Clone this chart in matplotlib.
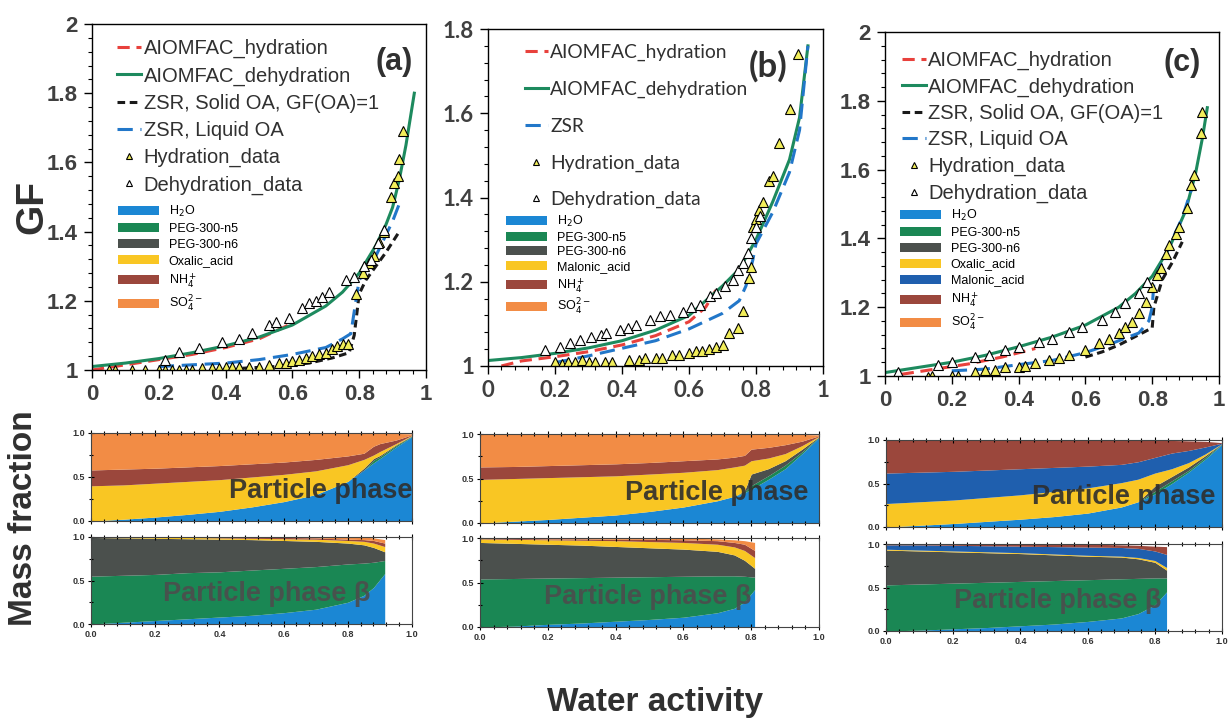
import numpy as np
import matplotlib.pyplot as plt
from matplotlib.lines import Line2D
from matplotlib.patches import Patch
from matplotlib.ticker import MultipleLocator

plt.rcParams['font.family'] = ['Liberation Sans', 'DejaVu Sans']

# ---------------------------------------------
# GF DATA  (water activity, growth factor)
# ---------------------------------------------

# panel (a)
a_dehyd_aw = [0, 0.1, 0.2, 0.3, 0.4, 0.5, 0.6, 0.7, 0.75, 0.8, 0.85, 0.88, 0.9, 0.92, 0.94, 0.965]
a_dehyd_gf = [1.01, 1.02, 1.033, 1.05, 1.07, 1.095, 1.13, 1.185, 1.225, 1.28, 1.36, 1.42, 1.47, 1.55, 1.65, 1.8]
a_hyd_aw = [0.0, 0.1, 0.2, 0.3, 0.4, 0.5, 0.6]
a_hyd_gf = [1.0, 1.015, 1.03, 1.045, 1.065, 1.09, 1.135]
a_zsr_liq_aw = [0.2, 0.3, 0.4, 0.5, 0.6, 0.7, 0.75, 0.775, 0.79, 0.8, 0.85, 0.9, 0.92]
a_zsr_liq_gf = [1.01, 1.015, 1.02, 1.03, 1.045, 1.065, 1.09, 1.105, 1.2, 1.26, 1.33, 1.43, 1.48]
a_zsr_sol_aw = [0.45, 0.55, 0.65, 0.72, 0.77, 0.785, 0.8, 0.82, 0.85, 0.88, 0.92]
a_zsr_sol_gf = [1.005, 1.01, 1.02, 1.035, 1.05, 1.1, 1.22, 1.26, 1.3, 1.34, 1.4]
a_hdata_aw = [0.05, 0.07, 0.12, 0.16, 0.2, 0.22, 0.24, 0.26, 0.28, 0.3, 0.33, 0.36, 0.38, 0.4,
              0.42, 0.44, 0.47, 0.5, 0.53, 0.56, 0.58, 0.6, 0.62, 0.64, 0.66, 0.68, 0.7, 0.72,
              0.735, 0.75, 0.765, 0.79, 0.81, 0.83, 0.845, 0.86, 0.875, 0.895, 0.905, 0.915, 0.92, 0.93]
a_hdata_gf = [1.0, 1.0, 1.0, 1.0, 1.0, 1.0, 1.0, 1.0, 1.0, 1.0, 1.005, 1.005, 1.005, 1.01,
              1.01, 1.01, 1.01, 1.01, 1.015, 1.02, 1.02, 1.025, 1.03, 1.035, 1.04, 1.045, 1.05, 1.06,
              1.07, 1.075, 1.075, 1.22, 1.28, 1.31, 1.33, 1.37, 1.4, 1.5, 1.54, 1.56, 1.61, 1.69]
a_ddata_aw = [0.22, 0.26, 0.32, 0.39, 0.44, 0.48, 0.53, 0.55, 0.59, 0.63, 0.65, 0.67, 0.69, 0.71,
              0.76, 0.785, 0.815, 0.835, 0.855, 0.875]
a_ddata_gf = [1.03, 1.053, 1.063, 1.082, 1.09, 1.106, 1.13, 1.14, 1.15, 1.178, 1.193, 1.2, 1.21, 1.226,
              1.26, 1.27, 1.3, 1.318, 1.366, 1.405]

# panel (b)
b_dehyd_aw = [0, 0.1, 0.2, 0.3, 0.4, 0.5, 0.6, 0.7, 0.75, 0.8, 0.85, 0.9, 0.93, 0.955]
b_dehyd_gf = [1.013, 1.02, 1.03, 1.043, 1.06, 1.085, 1.12, 1.19, 1.23, 1.3, 1.39, 1.49, 1.59, 1.76]
b_hyd_aw = [0.04, 0.1, 0.2, 0.3, 0.4, 0.5, 0.6, 0.65, 0.68]
b_hyd_gf = [1.0, 1.012, 1.022, 1.034, 1.05, 1.072, 1.105, 1.14, 1.18]
b_zsr_aw = [0.2, 0.3, 0.4, 0.5, 0.6, 0.7, 0.75, 0.77, 0.79, 0.8, 0.85, 0.9, 0.93, 0.955]
b_zsr_gf = [1.008, 1.024, 1.042, 1.06, 1.088, 1.125, 1.155, 1.19, 1.25, 1.29, 1.365, 1.46, 1.56, 1.76]
b_hdata_aw = [0.2, 0.22, 0.24, 0.26, 0.28, 0.3, 0.32, 0.35, 0.37, 0.42, 0.45, 0.47, 0.5, 0.52,
              0.55, 0.57, 0.6, 0.62, 0.64, 0.66, 0.68, 0.7, 0.72, 0.745, 0.76, 0.78, 0.785, 0.79,
              0.8, 0.81, 0.82, 0.84, 0.85, 0.87, 0.9, 0.925]
b_hdata_gf = [1.01, 1.005, 1.01, 1.01, 1.015, 1.01, 1.01, 1.01, 1.01, 1.015, 1.015, 1.02, 1.02, 1.02,
              1.025, 1.025, 1.03, 1.035, 1.035, 1.04, 1.045, 1.05, 1.078, 1.09, 1.13, 1.21, 1.236, 1.33,
              1.35, 1.37, 1.39, 1.44, 1.45, 1.53, 1.61, 1.74]
b_ddata_aw = [0.169, 0.214, 0.244, 0.274, 0.308, 0.338, 0.353, 0.393, 0.418, 0.443, 0.483, 0.512,
              0.542, 0.582, 0.607, 0.632, 0.662, 0.682, 0.706, 0.731, 0.746, 0.761, 0.776, 0.786,
              0.801, 0.811]
b_ddata_gf = [1.038, 1.046, 1.054, 1.062, 1.07, 1.074, 1.078, 1.086, 1.09, 1.098, 1.11, 1.118,
              1.121, 1.129, 1.141, 1.145, 1.165, 1.173, 1.189, 1.205, 1.229, 1.245, 1.268, 1.304,
              1.331, 1.355]

# panel (c)
c_dehyd_aw = [0, 0.1, 0.2, 0.3, 0.4, 0.5, 0.6, 0.7, 0.75, 0.8, 0.85, 0.9, 0.93, 0.95, 0.965]
c_dehyd_gf = [1.01, 1.025, 1.04, 1.06, 1.085, 1.113, 1.148, 1.2, 1.24, 1.29, 1.37, 1.48, 1.59, 1.69, 1.78]
c_hyd_aw = [0.05, 0.15, 0.25, 0.35, 0.45]
c_hyd_gf = [1.005, 1.02, 1.035, 1.055, 1.08]
c_zsr_liq_aw = [0.2, 0.3, 0.4, 0.5, 0.6, 0.68, 0.76, 0.79, 0.8, 0.805, 0.84, 0.89, 0.92]
c_zsr_liq_gf = [1.015, 1.02, 1.033, 1.045, 1.068, 1.095, 1.125, 1.16, 1.2, 1.27, 1.355, 1.46, 1.55]
c_zsr_sol_aw = [0.6, 0.65, 0.7, 0.75, 0.78, 0.8, 0.805, 0.83, 0.86, 0.89]
c_zsr_sol_gf = [1.055, 1.07, 1.09, 1.115, 1.13, 1.14, 1.2, 1.28, 1.33, 1.39]
c_hdata_aw = [0.13, 0.14, 0.2, 0.22, 0.27, 0.3, 0.33, 0.36, 0.4, 0.42, 0.45, 0.49, 0.52, 0.55,
              0.6, 0.64, 0.67, 0.7, 0.72, 0.74, 0.76, 0.78, 0.8, 0.815, 0.825, 0.84, 0.85, 0.87,
              0.88, 0.905, 0.915, 0.925, 0.945, 0.95]
c_hdata_gf = [0.998, 1.0, 1.0, 1.0, 1.013, 1.017, 1.017, 1.027, 1.027, 1.03, 1.037, 1.046, 1.051, 1.061,
              1.076, 1.095, 1.109, 1.124, 1.143, 1.158, 1.182, 1.216, 1.26, 1.293, 1.313, 1.356, 1.38, 1.414,
              1.434, 1.487, 1.555, 1.584, 1.705, 1.768]
c_ddata_aw = [0.04, 0.16, 0.2, 0.27, 0.31, 0.36, 0.4, 0.46, 0.5, 0.55, 0.59, 0.65, 0.69, 0.72, 0.76, 0.785]
c_ddata_gf = [1.013, 1.032, 1.042, 1.056, 1.061, 1.076, 1.085, 1.1, 1.109, 1.129, 1.143, 1.163, 1.187,
              1.211, 1.24, 1.274]

# ---------------------------------------------
# MASS FRACTION DATA (cumulative top of each layer)
# ---------------------------------------------

# (a) particle phase: H2O, PEG-n5, PEG-n6, oxalic, NH4, SO4
a_mf_aw = [0, 0.1, 0.2, 0.3, 0.4, 0.5, 0.6, 0.7, 0.8, 0.85, 0.88, 0.9, 0.95, 1.0]
a_mf_h2o = [0, 0.02, 0.045, 0.075, 0.11, 0.16, 0.22, 0.3, 0.45, 0.58, 0.66, 0.71, 0.84, 0.96]
a_mf_n5 = [0, 0.02, 0.045, 0.075, 0.11, 0.16, 0.22, 0.3, 0.45, 0.58, 0.69, 0.73, 0.855, 0.965]
a_mf_n6 = [0, 0.02, 0.045, 0.075, 0.11, 0.16, 0.22, 0.3, 0.45, 0.6, 0.71, 0.745, 0.865, 0.97]
a_mf_oxa = [0.40, 0.41, 0.43, 0.45, 0.47, 0.50, 0.53, 0.57, 0.64, 0.70, 0.75, 0.79, 0.88, 0.975]
a_mf_nh4 = [0.58, 0.59, 0.60, 0.615, 0.63, 0.65, 0.67, 0.70, 0.74, 0.77, 0.85, 0.88, 0.92, 0.98]
a_mf_so4 = [1.0, 1.0, 1.0, 1.0, 1.0, 1.0, 1.0, 1.0, 1.0, 1.0, 1.0, 1.0, 0.995, 0.99]

# (a) particle phase beta
a_mfb_aw = [0, 0.1, 0.2, 0.3, 0.4, 0.5, 0.6, 0.7, 0.8, 0.85, 0.88, 0.915]
a_mfb_h2o = [0, 0.02, 0.04, 0.06, 0.08, 0.1, 0.13, 0.17, 0.25, 0.33, 0.42, 0.58]
a_mfb_n5 = [0.55, 0.56, 0.57, 0.59, 0.6, 0.62, 0.64, 0.66, 0.69, 0.7, 0.71, 0.73]
a_mfb_n6 = [0.995, 0.99, 0.985, 0.98, 0.975, 0.97, 0.96, 0.95, 0.93, 0.91, 0.88, 0.83]
a_mfb_oxa = [1.0, 1.0, 0.998, 0.995, 0.99, 0.985, 0.98, 0.975, 0.96, 0.95, 0.93, 0.89]
a_mfb_nh4 = [1.0, 1.0, 1.0, 1.0, 1.0, 1.0, 0.995, 0.99, 0.975, 0.97, 0.96, 0.93]
a_mfb_so4 = [1.0, 1.0, 1.0, 1.0, 1.0, 1.0, 1.0, 1.0, 1.0, 1.0, 0.99, 0.97]

# (b) particle phase: H2O, PEG-n5, PEG-n6, malonic, NH4, SO4
b_mf_aw = [0, 0.1, 0.2, 0.3, 0.4, 0.5, 0.6, 0.7, 0.75, 0.78, 0.8, 0.85, 0.9, 0.95, 1.0]
b_mf_h2o = [0, 0.02, 0.04, 0.065, 0.09, 0.13, 0.18, 0.25, 0.3, 0.34, 0.38, 0.49, 0.61, 0.78, 0.96]
b_mf_n5 = [0, 0.02, 0.04, 0.065, 0.09, 0.13, 0.18, 0.25, 0.3, 0.35, 0.42, 0.53, 0.65, 0.8, 0.965]
b_mf_n6 = [0, 0.02, 0.04, 0.065, 0.09, 0.13, 0.18, 0.25, 0.3, 0.36, 0.55, 0.61, 0.7, 0.83, 0.97]
b_mf_mal = [0.49, 0.5, 0.51, 0.52, 0.53, 0.55, 0.57, 0.6, 0.63, 0.65, 0.7, 0.73, 0.78, 0.87, 0.975]
b_mf_nh4 = [0.63, 0.635, 0.645, 0.655, 0.665, 0.68, 0.7, 0.72, 0.74, 0.76, 0.83, 0.85, 0.88, 0.92, 0.98]
b_mf_so4 = [1.0, 1.0, 1.0, 1.0, 1.0, 1.0, 1.0, 1.0, 1.0, 1.0, 1.0, 1.0, 1.0, 0.995, 0.99]

# (b) particle phase beta
b_mfb_aw = [0, 0.1, 0.2, 0.3, 0.4, 0.5, 0.6, 0.7, 0.75, 0.78, 0.81]
b_mfb_h2o = [0, 0.01, 0.03, 0.045, 0.065, 0.085, 0.11, 0.16, 0.21, 0.28, 0.42]
b_mfb_n5 = [0.54, 0.545, 0.55, 0.555, 0.56, 0.565, 0.57, 0.575, 0.575, 0.57, 0.56]
b_mfb_n6 = [0.95, 0.94, 0.93, 0.92, 0.905, 0.89, 0.875, 0.85, 0.81, 0.75, 0.66]
b_mfb_mal = [0.99, 0.985, 0.98, 0.975, 0.97, 0.96, 0.95, 0.93, 0.9, 0.86, 0.78]
b_mfb_nh4 = [0.995, 0.995, 0.99, 0.99, 0.985, 0.985, 0.98, 0.97, 0.95, 0.93, 0.86]
b_mfb_so4 = [1.0, 1.0, 1.0, 1.0, 1.0, 1.0, 1.0, 0.99, 0.98, 0.97, 0.95]

# (c) particle phase: H2O, PEG-n5, PEG-n6, oxalic, malonic, NH4
c_mf_aw = [0, 0.1, 0.2, 0.3, 0.4, 0.5, 0.6, 0.7, 0.75, 0.8, 0.85, 0.9, 0.95, 1.0]
c_mf_h2o = [0, 0.02, 0.04, 0.065, 0.09, 0.12, 0.16, 0.23, 0.29, 0.38, 0.5, 0.63, 0.78, 0.95]
c_mf_n5 = [0, 0.02, 0.04, 0.065, 0.09, 0.12, 0.16, 0.23, 0.29, 0.41, 0.53, 0.65, 0.8, 0.955]
c_mf_n6 = [0, 0.02, 0.04, 0.065, 0.09, 0.12, 0.16, 0.23, 0.29, 0.47, 0.58, 0.69, 0.82, 0.96]
c_mf_oxa = [0.27, 0.29, 0.31, 0.34, 0.37, 0.41, 0.45, 0.51, 0.55, 0.62, 0.67, 0.74, 0.84, 0.96]
c_mf_mal = [0.62, 0.63, 0.64, 0.655, 0.67, 0.685, 0.7, 0.72, 0.75, 0.8, 0.85, 0.88, 0.92, 0.965]
c_mf_nh4 = [1.0, 1.0, 1.0, 1.0, 1.0, 1.0, 1.0, 1.0, 1.0, 1.0, 0.995, 0.99, 0.985, 0.97]

# (c) particle phase beta
c_mfb_aw = [0, 0.1, 0.2, 0.3, 0.4, 0.5, 0.6, 0.7, 0.75, 0.8, 0.835]
c_mfb_h2o = [0, 0.01, 0.025, 0.04, 0.06, 0.08, 0.11, 0.15, 0.2, 0.3, 0.45]
c_mfb_n5 = [0.53, 0.54, 0.55, 0.56, 0.57, 0.58, 0.59, 0.6, 0.605, 0.61, 0.61]
c_mfb_n6 = [0.93, 0.92, 0.91, 0.9, 0.89, 0.875, 0.86, 0.85, 0.83, 0.79, 0.7]
c_mfb_oxa = [0.94, 0.93, 0.92, 0.91, 0.9, 0.885, 0.87, 0.86, 0.845, 0.81, 0.73]
c_mfb_mal = [0.99, 0.99, 0.985, 0.98, 0.975, 0.97, 0.965, 0.96, 0.95, 0.92, 0.88]
c_mfb_nh4 = [1.0, 1.0, 1.0, 1.0, 1.0, 1.0, 1.0, 0.99, 0.985, 0.975, 0.97]

# ---------------------------------------------
# STYLE
# ---------------------------------------------

W, H = 1231, 720
fig = plt.figure(figsize=(W / 100, H / 100), dpi=100)

C_H2O = '#1b87d4'
C_N5 = '#1a8754'
C_N6 = '#4b504d'
C_OXA = '#f9c623'
C_MAL = '#1f5fae'
C_NH4 = '#9b473c'
C_SO4 = '#f28c45'
C_TRI = '#f2ee5a'

red_style = dict(color='#e8413c', lw=2.2, dashes=(4, 2.2))
green_style = dict(color='#1d8a5e', lw=2.2)
black_style = dict(color='#1a1a1a', lw=2.2, dashes=(2.5, 1.5))
blue_style = dict(color='#2277c9', lw=2.2, dashes=(5, 2.5))


def px_axes(l, t, r, b):
    return fig.add_axes([l / W, 1 - b / H, (r - l) / W, (b - t) / H])


def gf_panel(box, ylim, curves, hdata, ddata, tag, tag_xy, tag_size, leg_xy, leg_space,
             leg_size, species, sp_xy, sp_space, font):
    ax = px_axes(*box)
    handles = []
    for aw, gf, style, label in curves:
        ax.plot(aw, gf, **style)
        handles.append(Line2D([], [], label=label, **style))
    ax.plot(hdata[0], hdata[1], ls='none', marker='^', ms=6.5, mfc=C_TRI, mec='k', mew=0.8)
    ax.plot(ddata[0], ddata[1], ls='none', marker='^', ms=6.5, mfc='white', mec='k', mew=0.8)
    handles.append(Line2D([], [], ls='none', marker='^', ms=5, mfc=C_TRI, mec='k', mew=0.8,
                          label='Hydration_data'))
    handles.append(Line2D([], [], ls='none', marker='^', ms=5, mfc='white', mec='k', mew=0.8,
                          label='Dehydration_data'))
    ax.set_xlim(0, 1)
    ax.set_ylim(*ylim)
    ax.xaxis.set_major_locator(MultipleLocator(0.2))
    ax.xaxis.set_minor_locator(MultipleLocator(0.04))
    ax.yaxis.set_major_locator(MultipleLocator(0.2))
    ax.yaxis.set_minor_locator(MultipleLocator(0.04))
    ax.xaxis.set_major_formatter(lambda v, p: f'{v:g}')
    ax.yaxis.set_major_formatter(lambda v, p: f'{v:g}')
    ax.tick_params(which='major', direction='out', length=6, width=1, labelsize=16,
                   labelcolor='#404040', pad=4)
    ax.tick_params(which='minor', direction='out', length=3, width=0.8)
    for lbl in ax.get_xticklabels() + ax.get_yticklabels():
        lbl.set_fontfamily(font)
        lbl.set_fontweight('bold')
    for s in ax.spines.values():
        s.set_linewidth(1)

    leg = ax.legend(handles=handles, loc='upper left', bbox_to_anchor=leg_xy,
                    frameon=False, prop={'family': font, 'size': leg_size},
                    handlelength=1.2, handletextpad=0.12, labelspacing=leg_space,
                    borderpad=0, borderaxespad=0, numpoints=1)
    for t in leg.get_texts():
        t.set_color('#303030')
    ax.add_artist(leg)

    sp_handles = [Patch(facecolor=c, edgecolor='none', label=n) for n, c in species]
    ax.legend(handles=sp_handles, loc='upper left', bbox_to_anchor=sp_xy, frameon=False,
              prop={'family': 'Liberation Sans', 'size': 9}, handlelength=3.3,
              handleheight=0.75, handletextpad=0.75, labelspacing=sp_space,
              borderpad=0, borderaxespad=0)
    ax.text(tag_xy[0], tag_xy[1], tag, transform=ax.transAxes, ha='center', va='center',
            fontsize=tag_size, fontweight='bold', family=font, color='#303030')
    return ax


def mf_panel(box, aw, layers, colors, show_labels, label, label_x):
    ax = px_axes(*box)
    lower = np.zeros(len(aw))
    for upper, c in zip(layers, colors):
        ax.fill_between(aw, lower, upper, color=c, lw=0)
        lower = np.array(upper)
    ax.set_xlim(0, 1)
    ax.set_ylim(0, 1)
    ax.set_xticks([0, 0.2, 0.4, 0.6, 0.8, 1.0])
    ax.xaxis.set_minor_locator(MultipleLocator(0.04))
    ax.set_yticks([0, 0.5, 1.0])
    ax.yaxis.set_minor_locator(MultipleLocator(0.25))
    ax.xaxis.set_major_formatter(lambda v, p: f'{v:.1f}')
    ax.yaxis.set_major_formatter(lambda v, p: f'{v:.1f}')
    ax.tick_params(which='both', direction='inout', top=True, labelsize=6.5,
                   labelcolor='#333333', length=4, width=0.8, pad=2)
    ax.tick_params(which='minor', length=2.5)
    if not show_labels:
        ax.tick_params(labelbottom=False)
    for lbl in ax.get_xticklabels() + ax.get_yticklabels():
        lbl.set_fontweight('bold')
    for s in ax.spines.values():
        s.set_linewidth(0.8)
        s.set_color('#444444')
    beta = label.endswith('β')
    ax.text(label_x, 0.34, label, transform=ax.transAxes, ha='right', va='center',
            fontsize=19.5, fontweight='bold', color='#4d4d4d' if beta else '#2e2e2e',
            alpha=0.9)
    return ax


species_a = [(r'H$_2$O', C_H2O), ('PEG-300-n5', C_N5), ('PEG-300-n6', C_N6),
             ('Oxalic_acid', C_OXA), (r'NH$_4^+$', C_NH4), (r'SO$_4^{2-}$', C_SO4)]
species_b = [(r'H$_2$O', C_H2O), ('PEG-300-n5', C_N5), ('PEG-300-n6', C_N6),
             ('Malonic_acid', C_OXA), (r'NH$_4^+$', C_NH4), (r'SO$_4^{2-}$', C_SO4)]
species_c = [(r'H$_2$O', C_H2O), ('PEG-300-n5', C_N5), ('PEG-300-n6', C_N6),
             ('Oxalic_acid', C_OXA), ('Malonic_acid', C_MAL), (r'NH$_4^+$', C_NH4),
             (r'SO$_4^{2-}$', C_SO4)]

# ---------------------------------------------
# GF PANELS
# ---------------------------------------------

gf_panel((92, 24, 426, 370), (1, 2),
         [(a_hyd_aw, a_hyd_gf, red_style, 'AIOMFAC_hydration'),
          (a_dehyd_aw, a_dehyd_gf, green_style, 'AIOMFAC_dehydration'),
          (a_zsr_sol_aw, a_zsr_sol_gf, black_style, 'ZSR, Solid OA, GF(OA)=1'),
          (a_zsr_liq_aw, a_zsr_liq_gf, blue_style, 'ZSR, Liquid OA')],
         (a_hdata_aw, a_hdata_gf), (a_ddata_aw, a_ddata_gf),
         '(a)', (0.905, 0.89), 22, (0.075, 0.956), 0.4, 14.5, species_a, (0.078, 0.48), 0.32,
         'Liberation Sans')

gf_panel((488, 29, 823, 366), (1, 1.8),
         [(b_hyd_aw, b_hyd_gf, red_style, 'AIOMFAC_hydration'),
          (b_dehyd_aw, b_dehyd_gf, green_style, 'AIOMFAC_dehydration'),
          (b_zsr_aw, b_zsr_gf, blue_style, 'ZSR')],
         (b_hdata_aw, b_hdata_gf), (b_ddata_aw, b_ddata_gf),
         '(b)', (0.835, 0.89), 25, (0.11, 0.955), 1.02, 13.8, species_b, (0.054, 0.452), 0.22,
         'Lato')

gf_panel((885, 32, 1219, 376), (1, 2),
         [(c_hyd_aw, c_hyd_gf, red_style, 'AIOMFAC_hydration'),
          (c_dehyd_aw, c_dehyd_gf, green_style, 'AIOMFAC_dehydration'),
          (c_zsr_sol_aw, c_zsr_sol_gf, black_style, 'ZSR, Solid OA, GF(OA)=1'),
          (c_zsr_liq_aw, c_zsr_liq_gf, blue_style, 'ZSR, Liquid OA')],
         (c_hdata_aw, c_hdata_gf), (c_ddata_aw, c_ddata_gf),
         '(c)', (0.89, 0.91), 22, (0.05, 0.946), 0.37, 14.5, species_c, (0.045, 0.49), 0.32,
         'Liberation Sans')

# ---------------------------------------------
# MASS FRACTION PANELS
# ---------------------------------------------

cols6 = [C_H2O, C_N5, C_N6, C_OXA, C_NH4, C_SO4]
cols_c = [C_H2O, C_N5, C_N6, C_OXA, C_MAL, C_NH4]

mf_panel((91, 433, 412, 521), a_mf_aw,
         [a_mf_h2o, a_mf_n5, a_mf_n6, a_mf_oxa, a_mf_nh4, a_mf_so4], cols6,
         False, 'Particle phase', 1.0)
mf_panel((91, 537, 412, 624), a_mfb_aw,
         [a_mfb_h2o, a_mfb_n5, a_mfb_n6, a_mfb_oxa, a_mfb_nh4, a_mfb_so4], cols6,
         True, 'Particle phase β', 0.87)

mf_panel((480, 434, 819, 523), b_mf_aw,
         [b_mf_h2o, b_mf_n5, b_mf_n6, b_mf_mal, b_mf_nh4, b_mf_so4], cols6,
         False, 'Particle phase', 0.97)
mf_panel((480, 538, 819, 627), b_mfb_aw,
         [b_mfb_h2o, b_mfb_n5, b_mfb_n6, b_mfb_mal, b_mfb_nh4, b_mfb_so4], cols6,
         True, 'Particle phase β', 0.8)

mf_panel((886, 440, 1222, 527), c_mf_aw,
         [c_mf_h2o, c_mf_n5, c_mf_n6, c_mf_oxa, c_mf_mal, c_mf_nh4], cols_c,
         False, 'Particle phase', 0.98)
mf_panel((886, 544, 1222, 631), c_mfb_aw,
         [c_mfb_h2o, c_mfb_n5, c_mfb_n6, c_mfb_oxa, c_mfb_mal, c_mfb_nh4], cols_c,
         True, 'Particle phase β', 0.82)

# ---------------------------------------------
# SHARED LABELS
# ---------------------------------------------

fig.text(32 / W, 1 - 207 / H, 'GF', rotation=90, ha='center', va='center',
         fontsize=28, fontweight='bold', color='#303030')
fig.text(24 / W, 1 - 518 / H, 'Mass fraction', rotation=90, ha='center', va='center',
         fontsize=24, fontweight='bold', color='#303030')
fig.text(655 / W, 1 - 703 / H, 'Water activity', ha='center', va='center',
         fontsize=24, fontweight='bold', color='#303030')

fig.savefig('out.png', dpi=100)
